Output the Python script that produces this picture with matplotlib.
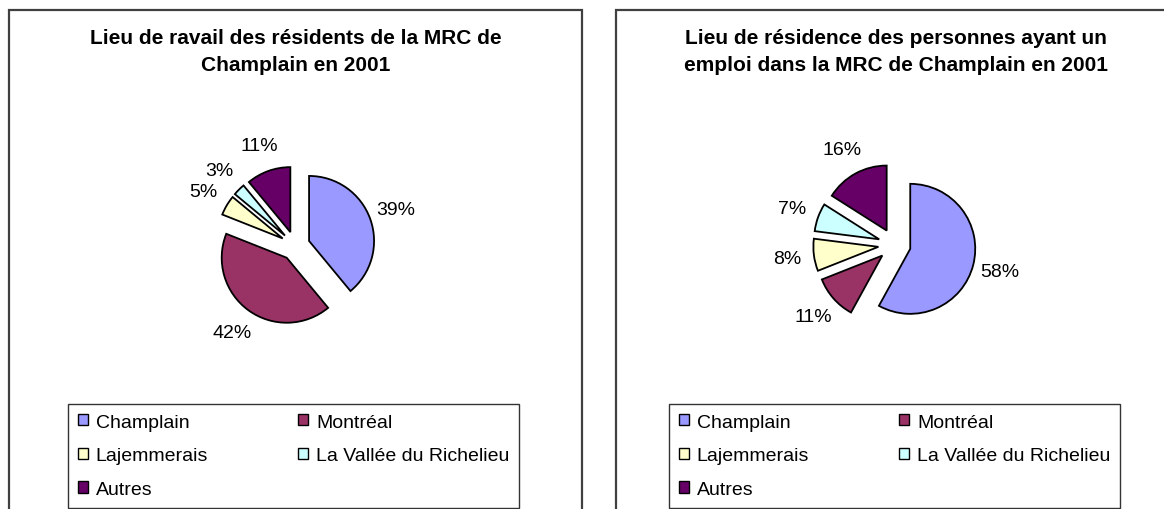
import matplotlib.pyplot as plt
from matplotlib.patches import Rectangle, Patch

# ---------------------------
# Data
# ---------------------------

categories = ["Champlain", "Montréal", "Lajemmerais", "La Vallée du Richelieu", "Autres"]
travail_pct = [39, 42, 5, 3, 11]      # lieu de travail des résidents
residence_pct = [58, 11, 8, 7, 16]    # lieu de résidence des travailleurs
colors = ["#9999FF", "#993366", "#FFFFCC", "#CCFFFF", "#660066"]

titles = [
    "Lieu de ravail des résidents de la MRC de\nChamplain en 2001",
    "Lieu de résidence des personnes ayant un\nemploi dans la MRC de Champlain en 2001",
]

W, H = 1164, 510
plt.rcParams["font.family"] = ["Liberation Sans", "DejaVu Sans"]

fig = plt.figure(figsize=(W / 100, H / 100), dpi=100)
fig.patch.set_facecolor("white")


def px_box(x0, y0, x1, y1):
    """Pixel box (top-left origin) -> figure fraction [left, bottom, width, height]."""
    return [x0 / W, 1 - y1 / H, (x1 - x0) / W, (y1 - y0) / H]


def draw_panel(values, title, frame, title_x, center, explode, legend_box):
    # outer chart frame
    fx0, fy0, fx1, fy1 = frame
    l, b, w, h = px_box(fx0, fy0, fx1, fy1)
    fig.patches.append(Rectangle((l, b), w, h, transform=fig.transFigure,
                                 fill=False, edgecolor="#404040", lw=1.6,
                                 clip_on=False))

    # title
    fig.text(title_x / W, 1 - 52 / H, title, ha="center", va="center",
             fontsize=15, fontweight="bold", linespacing=1.5)

    # pie, 65 px per unit
    cx, cy = center
    ax = fig.add_axes(px_box(cx - 130, cy - 130, cx + 130, cy + 130))
    ax.pie(values, colors=colors, startangle=90, counterclock=False,
           explode=[explode] * len(values), autopct="%1.0f%%",
           pctdistance=1.42,
           wedgeprops=dict(edgecolor="black", linewidth=1.3),
           textprops=dict(fontsize=14, color="black"))
    ax.set_xlim(-2, 2)
    ax.set_ylim(-2, 2)
    ax.axis("off")

    # legend, column-first order to read row by row
    order = [0, 2, 4, 1, 3]
    handles = [Patch(facecolor=colors[i], edgecolor="black", lw=1.0) for i in order]
    lx0, ly0, lx1, ly1 = legend_box
    leg = fig.legend(handles, [categories[i] for i in order], ncol=2,
                     loc="upper left", bbox_to_anchor=px_box(lx0, ly0, lx1, ly1),
                     mode="expand", fontsize=14, frameon=True, fancybox=False,
                     edgecolor="black", handlelength=0.52, handleheight=0.52,
                     handletextpad=0.4, labelspacing=0.85, borderpad=0.5,
                     borderaxespad=0.0, columnspacing=1.0)
    leg.get_frame().set_linewidth(1.0)


draw_panel(travail_pct, titles[0], (9, 11, 582, 530), 296, (295.3, 246.9), 0.225,
           (68, 405, 519, 509))
draw_panel(residence_pct, titles[1], (616, 11, 1190, 530), 896, (894.5, 245.8), 0.25,
           (669, 405, 1120, 509))

fig.savefig("out.png", dpi=100)
